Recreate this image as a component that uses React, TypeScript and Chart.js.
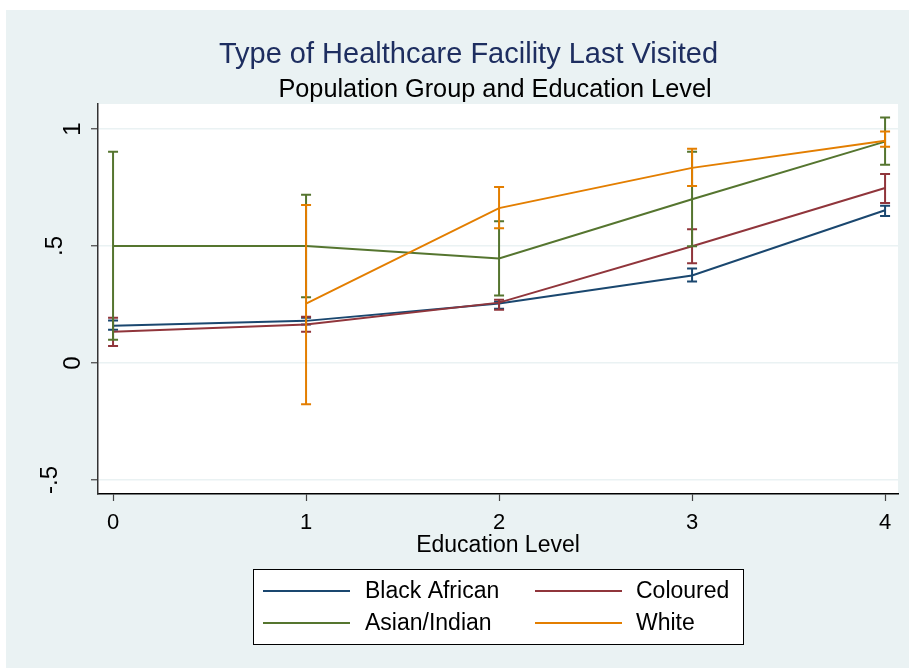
import React, { useEffect, useRef } from "react";
import { Chart, registerables } from "chart.js";

Chart.register(...registerables);

// ---------- data ----------
const categories = [0, 1, 2, 3, 4];
const xTickLabels = ["0", "1", "2", "3", "4"];
const yTickValues = [-0.5, 0, 0.5, 1];
const yTickLabels = ["-.5", "0", ".5", "1"];
const seriesNames = ["Black African", "Coloured", "Asian/Indian", "White"];

const blackAfrican = [0.159, 0.18, 0.254, 0.374, 0.653];
const blackAfricanLow = [0.142, 0.165, 0.232, 0.348, 0.628];
const blackAfricanHigh = [0.182, 0.193, 0.262, 0.404, 0.672];

const coloured = [0.133, 0.165, 0.258, 0.499, 0.748];
const colouredLow = [0.073, 0.133, 0.228, 0.426, 0.684];
const colouredHigh = [0.193, 0.198, 0.27, 0.572, 0.808];

const asianIndian = [0.5, 0.5, 0.447, 0.7, 0.946];
const asianIndianLow = [0.099, 0.281, 0.288, 0.499, 0.847];
const asianIndianHigh = [0.903, 0.719, 0.606, 0.903, 1.049];

const white = [null, 0.254, 0.662, 0.834, 0.95];
const whiteLow = [null, -0.176, 0.576, 0.757, 0.924];
const whiteHigh = [null, 0.675, 0.752, 0.916, 0.989];

// ---------- styles ----------
const COLORS = ["#1A476F", "#90353B", "#55752F", "#E37E00"];
const BG = "#EAF2F3";
const FONT = '"Liberation Sans", Arial, sans-serif';
const yLabelShift = [23, 0, 18, 0];

const seriesValues = [blackAfrican, coloured, asianIndian, white];
const seriesLow = [blackAfricanLow, colouredLow, asianIndianLow, whiteLow];
const seriesHigh = [blackAfricanHigh, colouredHigh, asianIndianHigh, whiteHigh];

const backgroundPlugin = {
  id: "bgPlugin",
  beforeDraw(chart: any) {
    const { ctx, chartArea } = chart;
    ctx.save();
    ctx.fillStyle = "#ffffff";
    ctx.fillRect(0, 0, chart.width, chart.height);
    ctx.fillStyle = BG;
    ctx.fillRect(6, 10, chart.width - 6, chart.height - 10);
    ctx.fillStyle = "#ffffff";
    ctx.fillRect(chartArea.left, chartArea.top, chartArea.right - chartArea.left, chartArea.bottom - chartArea.top);
    ctx.restore();
  },
};

const errorBarPlugin = {
  id: "errorBars",
  beforeDatasetDraw(chart: any, args: any) {
    const ds = chart.data.datasets[args.index];
    const low = ds.errLow as (number | null)[];
    const high = ds.errHigh as (number | null)[];
    const xs = chart.scales.x;
    const ys = chart.scales.y;
    const ctx = chart.ctx;
    ctx.save();
    ctx.strokeStyle = ds.borderColor;
    ctx.lineWidth = 2;
    categories.forEach((c, i) => {
      const lo = low[i];
      const hi = high[i];
      if (lo == null || hi == null) return;
      const px = xs.getPixelForValue(c);
      const y1 = ys.getPixelForValue(lo);
      const y2 = ys.getPixelForValue(hi);
      ctx.beginPath();
      ctx.moveTo(px, y1);
      ctx.lineTo(px, y2);
      ctx.moveTo(px - 5, y1);
      ctx.lineTo(px + 5, y1);
      ctx.moveTo(px - 5, y2);
      ctx.lineTo(px + 5, y2);
      ctx.stroke();
    });
    ctx.restore();
  },
};

const textPlugin = {
  id: "texts",
  afterDraw(chart: any) {
    const ctx = chart.ctx;
    const ys = chart.scales.y;
    ctx.save();
    // titles
    ctx.textAlign = "center";
    ctx.textBaseline = "alphabetic";
    ctx.fillStyle = "#1E2E60";
    ctx.font = `29px ${FONT}`;
    ctx.fillText("Type of Healthcare Facility Last Visited", 468.5, 63);
    ctx.fillStyle = "#000000";
    ctx.font = `25.3px ${FONT}`;
    ctx.fillText("Population Group and Education Level", 495, 97);

    // y tick labels (rotated)
    ctx.font = `24px ${FONT}`;
    yTickValues.forEach((v, i) => {
      const py = ys.getPixelForValue(v);
      ctx.save();
      ctx.translate(80 - yLabelShift[i], py);
      ctx.rotate(-Math.PI / 2);
      ctx.textAlign = "center";
      ctx.textBaseline = "alphabetic";
      ctx.fillText(yTickLabels[i], 0, 0);
      ctx.restore();
    });

    // legend
    const bx = 253, by = 569, bw = 490, bh = 75;
    ctx.fillStyle = "#ffffff";
    ctx.fillRect(bx, by, bw, bh);
    ctx.strokeStyle = "#000000";
    ctx.lineWidth = 1;
    ctx.strokeRect(bx + 0.5, by + 0.5, bw, bh);
    const lineX = [263, 535];
    const textX = [365, 636];
    const rowY = [591, 623];
    ctx.font = `23px ${FONT}`;
    ctx.textAlign = "left";
    ctx.textBaseline = "middle";
    seriesNames.forEach((name, i) => {
      const col = i % 2;
      const row = Math.floor(i / 2);
      ctx.strokeStyle = COLORS[i];
      ctx.lineWidth = 2;
      ctx.beginPath();
      ctx.moveTo(lineX[col], rowY[row]);
      ctx.lineTo(lineX[col] + 87, rowY[row]);
      ctx.stroke();
      ctx.fillStyle = "#000000";
      ctx.fillText(name, textX[col], rowY[row] + 1);
    });
    ctx.restore();
  },
};

export default function App() {
  const canvasRef = useRef<HTMLCanvasElement | null>(null);

  useEffect(() => {
    const canvas = canvasRef.current;
    if (!canvas) return;
    const datasets = seriesNames.map((name, s) => ({
      label: name,
      data: categories.map((c, i) => ({ x: c, y: seriesValues[s][i] })),
      errLow: seriesLow[s],
      errHigh: seriesHigh[s],
      borderColor: COLORS[s],
      backgroundColor: COLORS[s],
      borderWidth: 2,
      pointRadius: 0,
      tension: 0,
      fill: false,
      order: 4 - s,
    }));

    const chart = new Chart(canvas, {
      type: "line",
      data: { datasets: datasets as any },
      options: {
        responsive: false,
        devicePixelRatio: 1,
        animation: false,
        layout: { padding: { top: 104, right: 11, left: 0, bottom: 0 } },
        plugins: {
          legend: { display: false },
          title: { display: false },
          tooltip: { enabled: false },
        },
        scales: {
          x: {
            type: "linear",
            min: -0.078,
            max: 4.067,
            afterBuildTicks: (scale: any) => {
              scale.ticks = categories.map((v) => ({ value: v }));
            },
            afterFit: (scale: any) => {
              scale.height = 174;
            },
            ticks: {
              callback: (_v: any, idx: number) => xTickLabels[idx],
              font: { family: FONT, size: 22 },
              color: "#000000",
              padding: 9,
              maxRotation: 0,
              minRotation: 0,
              autoSkip: false,
            },
            grid: {
              drawOnChartArea: false,
              drawTicks: true,
              tickLength: 7,
              tickColor: "#444444",
              tickWidth: 1.2,
            },
            border: { display: true, color: "#000000", width: 1.5 },
            title: {
              display: true,
              text: "Education Level",
              font: { family: FONT, size: 23 },
              color: "#000000",
              padding: { top: 0, bottom: 109 },
            },
          },
          y: {
            type: "linear",
            min: -0.56,
            max: 1.107,
            afterBuildTicks: (scale: any) => {
              scale.ticks = yTickValues.map((v) => ({ value: v }));
            },
            afterFit: (scale: any) => {
              scale.width = 98;
            },
            ticks: { display: false },
            grid: {
              color: BG,
              lineWidth: 1.5,
              drawTicks: true,
              tickLength: 7,
              tickColor: "#444444",
              tickWidth: 1.2,
            },
            border: { display: true, color: "#333333", width: 1.5 },
          },
        },
      },
      plugins: [backgroundPlugin, errorBarPlugin, textPlugin],
    } as any);

    return () => chart.destroy();
  }, []);

  return (
    <div style={{ position: "absolute", left: 0, top: 0, width: 909, height: 668 }}>
      <canvas ref={canvasRef} width={909} height={668} style={{ display: "block" }} />
    </div>
  );
}
